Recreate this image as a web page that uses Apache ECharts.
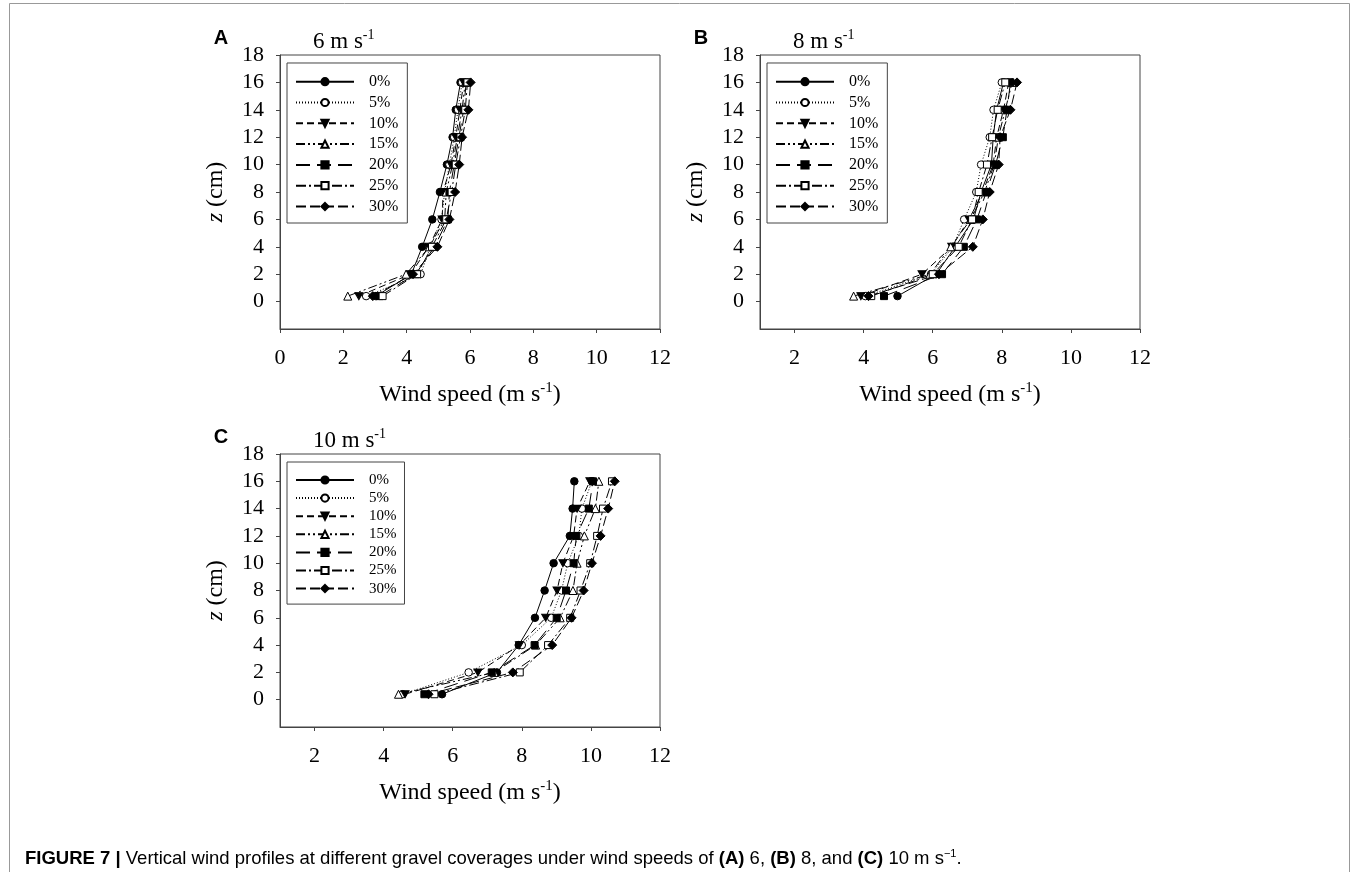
<!DOCTYPE html>
<html><head><meta charset="utf-8">
<script src="https://cdn.jsdelivr.net/npm/echarts@6/dist/echarts.min.js"></script>
<style>html,body{margin:0;padding:0;background:#fff}#c{width:1355px;height:872px}</style>
</head><body><div id="c"></div>
<script>
// ---------------- DATA ----------------
const zLevels = [0.4, 2, 4, 6, 8, 10, 12, 14, 16];            // height z (cm)
const coverages = ['0%', '5%', '10%', '15%', '20%', '25%', '30%'];
const xTicksA = [0, 2, 4, 6, 8, 10, 12];
const xTicksBC = [2, 4, 6, 8, 10, 12];
const yTicks = [0, 2, 4, 6, 8, 10, 12, 14, 16, 18];
const panelTitles = ['6 m s{sup|-1}', '8 m s{sup|-1}', '10 m s{sup|-1}'];
const panelLetters = ['A', 'B', 'C'];

// Panel A: 6 m/s  (wind speed at each z level, per coverage)
const speedsA = [
  [3.03, 4.15, 4.49, 4.81, 5.05, 5.27, 5.45, 5.55, 5.70],
  [2.72, 4.44, 4.75, 5.10, 5.20, 5.35, 5.50, 5.62, 5.75],
  [2.49, 4.12, 4.70, 5.12, 5.15, 5.40, 5.55, 5.68, 5.80],
  [2.14, 3.98, 4.72, 5.20, 5.25, 5.45, 5.60, 5.75, 5.85],
  [3.14, 4.28, 4.88, 5.30, 5.35, 5.50, 5.65, 5.80, 5.88],
  [3.24, 4.33, 4.80, 5.25, 5.42, 5.55, 5.70, 5.85, 5.92],
  [2.93, 4.20, 4.97, 5.35, 5.53, 5.66, 5.75, 5.95, 6.02]
];
// Panel B: 8 m/s
const speedsB = [
  [4.98, 6.10, 6.65, 7.18, 7.40, 7.70, 7.75, 7.85, 8.05],
  [4.05, 5.95, 6.58, 6.91, 7.26, 7.40, 7.65, 7.76, 8.00],
  [3.92, 5.69, 6.55, 7.05, 7.45, 7.75, 7.85, 8.05, 8.20],
  [3.71, 5.92, 6.52, 7.10, 7.50, 7.78, 7.90, 8.10, 8.30],
  [4.59, 6.27, 6.90, 7.28, 7.55, 7.82, 8.03, 8.15, 8.25],
  [4.22, 6.00, 6.75, 7.14, 7.33, 7.57, 7.72, 7.88, 8.10],
  [4.14, 6.18, 7.16, 7.45, 7.65, 7.91, 7.95, 8.25, 8.44]
];
// Panel C: 10 m/s
const speedsC = [
  [5.69, 7.28, 7.91, 8.38, 8.66, 8.92, 9.39, 9.47, 9.52],
  [4.55, 6.46, 8.00, 8.85, 9.15, 9.33, 9.65, 9.74, 10.03],
  [4.62, 6.73, 7.93, 8.69, 9.02, 9.19, 9.50, 9.60, 9.97],
  [4.43, 7.20, 8.40, 9.11, 9.48, 9.60, 9.81, 10.13, 10.23],
  [5.18, 7.13, 8.37, 9.01, 9.28, 9.50, 9.58, 9.94, 10.06],
  [5.47, 7.94, 8.76, 9.40, 9.70, 9.98, 10.18, 10.35, 10.61],
  [5.30, 7.74, 8.88, 9.44, 9.79, 10.03, 10.28, 10.50, 10.69]
];

// ---------------- STYLE ----------------
const SERIF = '"Liberation Serif", "Times New Roman", Times, serif';
const SANS = '"Liberation Sans", Arial, Helvetica, sans-serif';
const AX = '#444';
const markStyles = [
  {symbol: 'circle', size: 7.5, fill: '#000', dash: 'solid'},
  {symbol: 'circle', size: 7.5, fill: '#fff', dash: [1, 2]},
  {symbol: 'path://M0,0L10,0L5,9Z', size: [8, 7], fill: '#000', dash: [7, 4]},
  {symbol: 'triangle', size: 8, fill: '#fff', dash: [9, 3, 2, 3, 2, 3]},
  {symbol: 'rect', size: 7, fill: '#000', dash: [14, 7]},
  {symbol: 'rect', size: 7, fill: '#fff', dash: [10, 3, 2, 3]},
  {symbol: 'diamond', size: 9, fill: '#000', dash: [10, 4]}
];
const grids = [
  {left: 280, top: 55, width: 380, height: 274},
  {left: 760, top: 55, width: 380, height: 274},
  {left: 280, top: 454, width: 380, height: 273}
];
const allSpeeds = [speedsA, speedsB, speedsC];

function xAxis(i) {
  const ticks = i === 0 ? xTicksA : xTicksBC;
  return {
    type: 'value', gridIndex: i, min: i === 0 ? 0 : 1, max: 12,
    axisLine: {show: true, onZero: false, lineStyle: {color: AX, width: 1}},
    axisTick: {show: true, length: 4, inside: false, lineStyle: {color: AX}, customValues: ticks},
    axisLabel: {customValues: ticks, margin: 18, fontFamily: SERIF, fontSize: 22, color: '#000'},
    splitLine: {show: false},
    name: 'Wind speed (m s{sup|-1})', nameLocation: 'middle', nameGap: 52,
    nameTextStyle: {fontFamily: SERIF, fontSize: 24, color: '#000', lineHeight: 28,
      rich: {sup: {fontFamily: SERIF, fontSize: 15, lineHeight: 15, verticalAlign: 'top', color: '#000'}}}
  };
}
function yAxis(i) {
  return {
    type: 'value', gridIndex: i, min: -2, max: 18, interval: 2,
    axisLine: {show: true, onZero: false, lineStyle: {color: AX, width: 1}},
    axisTick: {show: true, length: 4, inside: false, lineStyle: {color: AX}, customValues: yTicks},
    axisLabel: {customValues: yTicks, margin: 16, fontFamily: SERIF, fontSize: 22, color: '#000'},
    splitLine: {show: false},
    name: '{i|z} (cm)', nameLocation: 'middle', nameGap: 52,
    nameTextStyle: {fontFamily: SERIF, fontSize: 24, color: '#000',
      rich: {i: {fontFamily: SERIF, fontSize: 24, fontStyle: 'italic', color: '#000'}}}
  };
}
function legend(i) {
  const g = grids[i];
  const small = i === 2;
  return {
    show: true, orient: 'vertical', left: g.left + 7, top: g.top + 8,
    data: coverages, selectedMode: false,
    itemWidth: 58, itemHeight: 9, itemGap: small ? 3.1 : 4.8,
    padding: small ? [10.5, 8, 8, 8] : [10.7, 9, 8.5, 8],
    borderColor: '#444', borderWidth: 1, backgroundColor: '#fff',
    textStyle: {fontFamily: SERIF, fontSize: small ? 15 : 16, color: '#000', padding: [0, 0, 0, 10]}
  };
}

const series = [];
allSpeeds.forEach((speeds, p) => {
  speeds.forEach((vals, k) => {
    const st = markStyles[k];
    series.push({
      type: 'line', name: coverages[k], xAxisIndex: p, yAxisIndex: p,
      data: zLevels.map((z, j) => [vals[j], z]),
      symbol: st.symbol, symbolSize: st.size, showSymbol: true,
      lineStyle: {color: '#000', width: 1, type: st.dash},
      itemStyle: {color: st.fill, borderColor: '#000', borderWidth: 1},
      emphasis: {disabled: true}, silent: true, animation: false, clip: false
    });
  });
});

const titles = grids.map((g, i) => ({
  text: panelTitles[i], left: g.left + 33, top: g.top - 27, padding: 0,
  textStyle: {fontFamily: SERIF, fontSize: 23, fontWeight: 'normal', color: '#000', lineHeight: 28,
    rich: {sup: {fontFamily: SERIF, fontSize: 14, lineHeight: 14, verticalAlign: 'top', color: '#000'}}}
}));

const graphics = [
  {type: 'rect', shape: {x: 9.5, y: 3.5, width: 1340, height: 900},
   style: {fill: 'none', stroke: '#999', lineWidth: 1}, silent: true, z: -10}
];
grids.forEach((g, i) => {
  graphics.push({type: 'text', x: g.left - 59, y: g.top - 17,
    style: {text: panelLetters[i], fontFamily: SANS, fontSize: 20, fontWeight: 'bold',
      fill: '#000', align: 'center', verticalAlign: 'middle'}});
});
const capFont = {fontFamily: SANS, fontSize: 18.5, fill: '#000'};
graphics.push({type: 'text', x: 25, y: 859,
  style: Object.assign({
    text: '{b|FIGURE 7 |} Vertical wind profiles at different gravel coverages under wind speeds of {b|(A)} 6, {b|(B)} 8, and {b|(C)} 10 m s{sup|\u22121}.',
    verticalAlign: 'middle', align: 'left', lineHeight: 22,
    rich: {
      b: {fontFamily: SANS, fontSize: 18.5, fontWeight: 'bold', fill: '#000', lineHeight: 22},
      sup: {fontFamily: SANS, fontSize: 11, fill: '#000', lineHeight: 11, verticalAlign: 'top'}
    }
  }, capFont)});

const option = {
  animation: false,
  backgroundColor: '#fff',
  title: titles,
  grid: grids.map(g => Object.assign({show: true, borderColor: AX, borderWidth: 1, backgroundColor: 'transparent'}, g)),
  xAxis: grids.map((g, i) => xAxis(i)),
  yAxis: grids.map((g, i) => yAxis(i)),
  legend: grids.map((g, i) => legend(i)),
  series: series,
  graphic: graphics
};
const chart = echarts.init(document.getElementById('c'));
chart.setOption(option);
</script>
</body></html>
